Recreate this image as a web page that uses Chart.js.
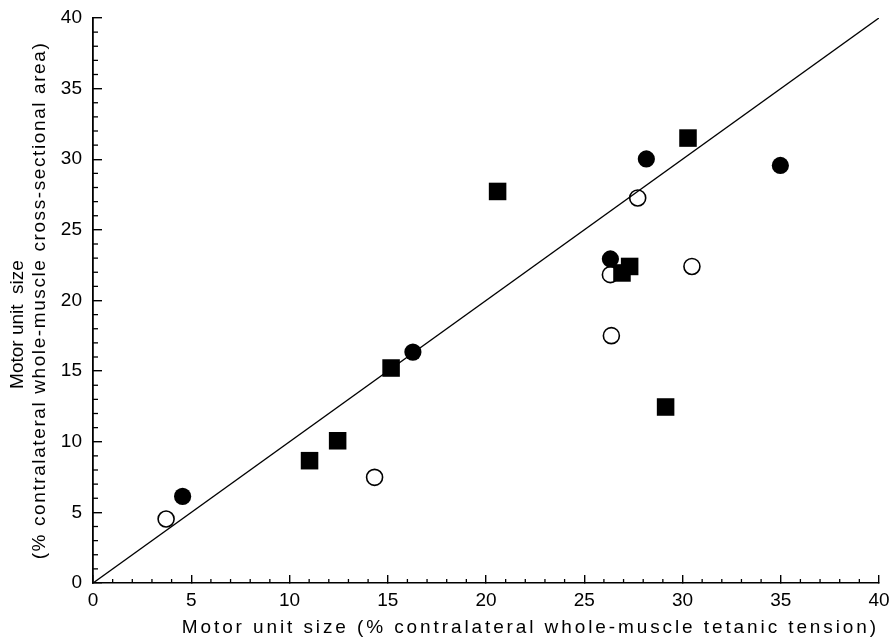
<!DOCTYPE html>
<html>
<head>
<meta charset="utf-8">
<script src="https://cdn.jsdelivr.net/npm/chart.js@4/dist/chart.umd.min.js"></script>
<style>
  html, body { margin: 0; padding: 0; background: #fff; }
  #wrap { width: 895px; height: 640px; }
</style>
</head>
<body>
<div id="wrap"><canvas id="c" width="895" height="640"></canvas></div>
<script>
// Data
const filledCircleX = [4.56, 16.28, 28.16, 34.98, 26.33];
const filledCircleY = [6.13, 16.35, 30.02, 29.56, 22.94];
const openCircleX = [3.72, 14.33, 27.72, 26.33, 30.48, 26.38];
const openCircleY = [4.53, 7.48, 27.26, 21.83, 22.41, 17.51];
const squareX = [11.02, 12.45, 15.17, 20.59, 30.28, 27.31, 26.92, 29.14];
const squareY = [8.66, 10.07, 15.22, 27.72, 31.50, 22.41, 21.95, 12.46];
const identityX = [0, 40];
const identityY = [0, 40];
const axisMin = 0, axisMax = 40, majorStep = 5, minorStep = 1;
const xTitle = 'Motor unit size (% contralateral whole-muscle tetanic tension)';
const yTitle = ['Motor unit  size', '(% contralateral whole-muscle cross-sectional area)'];

const pts = (xs, ys) => xs.map((x, i) => ({ x: x, y: ys[i] }));
const FONT = '"Liberation Sans", Arial, Helvetica, sans-serif';

const axisStyle = {
  id: 'axisStyle',
  beforeDraw(chart) {
    // widen axis titles with canvas letter spacing (the reference uses a wide face)
    ['x', 'y'].forEach(id => {
      const s = chart.scales[id];
      if (s && !s._spacedTitle) {
        const orig = s.drawTitle;
        s.drawTitle = function () {
          const ctx = this.ctx;
          const origFill = ctx.fillText;
          ctx.fillText = function (text, x, y, mw) {
            let dx = 0;
            if (id === 'x') ctx.letterSpacing = '2.9px';
            else if (text === yTitle[0]) { ctx.letterSpacing = '0px'; dx = -24; }
            else ctx.letterSpacing = '1.6px';
            const r = mw === undefined ? origFill.call(ctx, text, x + dx, y) : origFill.call(ctx, text, x + dx, y, mw);
            ctx.letterSpacing = '0px';
            return r;
          };
          orig.apply(this, arguments);
          ctx.fillText = origFill;
          ctx.letterSpacing = '0px';
        };
        s._spacedTitle = true;
      }
    });
  },
  afterDraw(chart) {
    const ctx = chart.ctx;
    const xs = chart.scales.x, ys = chart.scales.y;
    const bottom = chart.chartArea.bottom, left = chart.chartArea.left;
    ctx.save();
    ctx.strokeStyle = '#000';
    ctx.lineWidth = 1.3;
    for (let v = axisMin; v <= axisMax; v += minorStep) {
      if (v % majorStep === 0) continue;
      const px = xs.getPixelForValue(v);
      ctx.beginPath(); ctx.moveTo(px, bottom); ctx.lineTo(px, bottom - 4); ctx.stroke();
      const py = ys.getPixelForValue(v);
      ctx.beginPath(); ctx.moveTo(left, py); ctx.lineTo(left + 5, py); ctx.stroke();
    }
    ctx.restore();
  }
};

const noPad = s => { s.paddingTop = 0; s.paddingBottom = 0; s.paddingLeft = 0; s.paddingRight = 0; };

new Chart(document.getElementById('c'), {
  type: 'scatter',
  data: {
    datasets: [
      {
        label: 'identity',
        type: 'line',
        data: pts(identityX, identityY),
        borderColor: '#000',
        borderWidth: 1.4,
        pointRadius: 0,
        fill: false
      },
      {
        label: 'filled circles',
        data: pts(filledCircleX, filledCircleY),
        pointStyle: 'circle',
        pointRadius: 8.6,
        backgroundColor: '#000',
        borderColor: '#000',
        borderWidth: 0
      },
      {
        label: 'squares',
        data: pts(squareX, squareY),
        pointStyle: 'rect',
        pointRadius: 12.4,
        backgroundColor: '#000',
        borderColor: '#000',
        borderWidth: 0
      },
      {
        label: 'open circles',
        data: pts(openCircleX, openCircleY),
        pointStyle: 'circle',
        pointRadius: 8,
        backgroundColor: '#fff',
        borderColor: '#000',
        borderWidth: 1.6
      }
    ]
  },
  options: {
    responsive: false,
    animation: false,
    events: [],
    layout: { padding: { top: 18, right: 16, left: 0, bottom: 0 } },
    plugins: { legend: { display: false }, tooltip: { enabled: false } },
    scales: {
      x: {
        type: 'linear',
        min: axisMin, max: axisMax,
        afterFit(s) { s.height = 57; noPad(s); },
        ticks: { stepSize: majorStep, color: '#000', font: { family: FONT, size: 19 }, padding: 14, maxRotation: 0 },
        grid: { drawOnChartArea: false, drawTicks: true, tickLength: -8, color: '#000', lineWidth: 1.4 },
        border: { display: true, color: '#000', width: 1.6 },
        title: { display: true, text: xTitle, align: 'end', color: '#000', font: { family: FONT, size: 19 }, padding: { top: 0, bottom: 1 } }
      },
      y: {
        type: 'linear',
        min: axisMin, max: axisMax,
        afterFit(s) { s.width = 93; noPad(s); },
        ticks: { stepSize: majorStep, color: '#000', font: { family: FONT, size: 19 }, padding: 20 },
        grid: { drawOnChartArea: false, drawTicks: true, tickLength: -9, color: '#000', lineWidth: 1.4 },
        border: { display: true, color: '#000', width: 1.8 },
        title: { display: true, text: yTitle, color: '#000', font: { family: FONT, size: 19, lineHeight: 1.16 }, padding: { top: 7, bottom: 0 } }
      }
    }
  },
  plugins: [axisStyle]
});
</script>
</body>
</html>
